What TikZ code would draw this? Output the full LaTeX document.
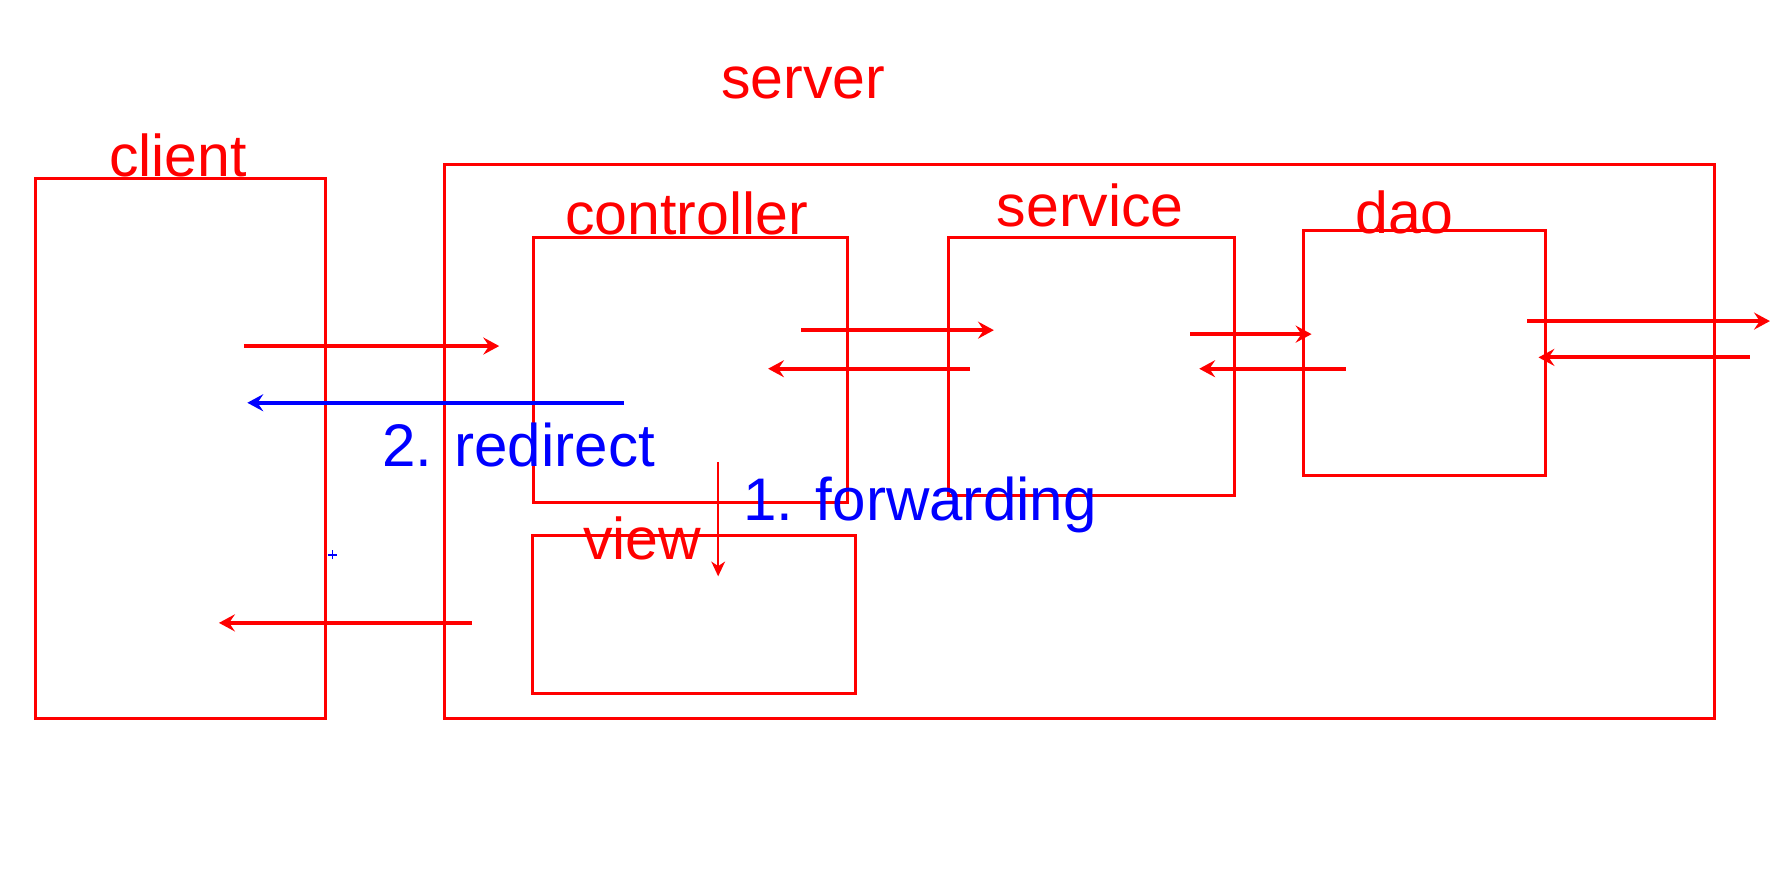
\documentclass[tikz,border=0pt]{standalone}
\usepackage{fontspec}
\setmainfont{Liberation Sans}
\usetikzlibrary{arrows.meta}
\definecolor{rd}{RGB}{255,0,0}
\definecolor{bl}{RGB}{0,0,255}
\tikzset{
  box/.style={draw=rd, line width=2.7pt},
  lbl/.style={anchor=base, inner sep=0pt, text=rd, font=\fontsize{52}{60}\selectfont},
  blbl/.style={anchor=base, inner sep=0pt, text=bl, font=\fontsize{53}{60}\selectfont},
  arr/.style={draw=rd, line width=3.6pt, -{Stealth[length=14pt,width=15pt,inset=5pt]}},
  barr/.style={draw=bl, line width=3.6pt, -{Stealth[length=14pt,width=15pt,inset=5pt]}},
  thinarr/.style={draw=rd, line width=2.2pt, -{Stealth[length=13pt,width=12pt,inset=4pt]}},
}
\begin{document}
\begin{tikzpicture}[x=1pt,y=-1pt]
\useasboundingbox (0,0) rectangle (1568,770);
% boxes
\draw[box] (31,157) rectangle (287,633);
\draw[box] (392,145) rectangle (1511,633);
\draw[box] (470,209) rectangle (747,443);
\draw[box] (836,209) rectangle (1088,437);
\draw[box] (1149,203) rectangle (1362,419);
\draw[box] (469,472) rectangle (754,611);
% labels
\node[lbl] (server) at (708,87) {server};
\node[lbl] (client) at (157,156) {client};
\node[lbl] (controller) at (605,207) {controller};
\node[lbl] (service) at (961,200) {service};
\node[lbl] (dao) at (1238,206) {dao};
\node[lbl] (view) at (566,493) {view};
\node[blbl] (redirect) at (457,411) {2. redirect};
\node[blbl] (forwarding) at (811,459) {1. forwarding};
% connector end points
\coordinate (c1s) at (215,305); \coordinate (c1e) at (440,305);
\coordinate (c2s) at (706,291); \coordinate (c2e) at (876,291);
\coordinate (c3s) at (855,325); \coordinate (c3e) at (677,325);
\coordinate (c4s) at (1049,294.5); \coordinate (c4e) at (1156,294.5);
\coordinate (c5s) at (1186,325); \coordinate (c5e) at (1057,325);
\coordinate (c6s) at (1346,283); \coordinate (c6e) at (1560,283);
\coordinate (c7s) at (1542,315); \coordinate (c7e) at (1356,315);
\coordinate (c8s) at (416,549); \coordinate (c8e) at (193,549);
\coordinate (fws) at (633,407); \coordinate (fwe) at (633,508);
\coordinate (rds) at (550,355); \coordinate (rde) at (218,355);
\coordinate (plus) at (293,489);
% arrows
\draw[arr] (c1s) -- (c1e);
\draw[arr] (c2s) -- (c2e);
\draw[arr] (c3s) -- (c3e);
\draw[arr] (c4s) -- (c4e);
\draw[arr] (c5s) -- (c5e);
\draw[arr] (c6s) -- (c6e);
\draw[arr] (c7s) -- (c7e);
\draw[arr] (c8s) -- (c8e);
\draw[thinarr] (fws) -- (fwe);
\draw[barr] (rds) -- (rde);
% small blue plus
\draw[draw=bl, line width=1.5pt] ([xshift=-4pt]plus) -- ([xshift=4pt]plus)
  ([yshift=-4pt]plus) -- ([yshift=4pt]plus);
\end{tikzpicture}
\end{document}
